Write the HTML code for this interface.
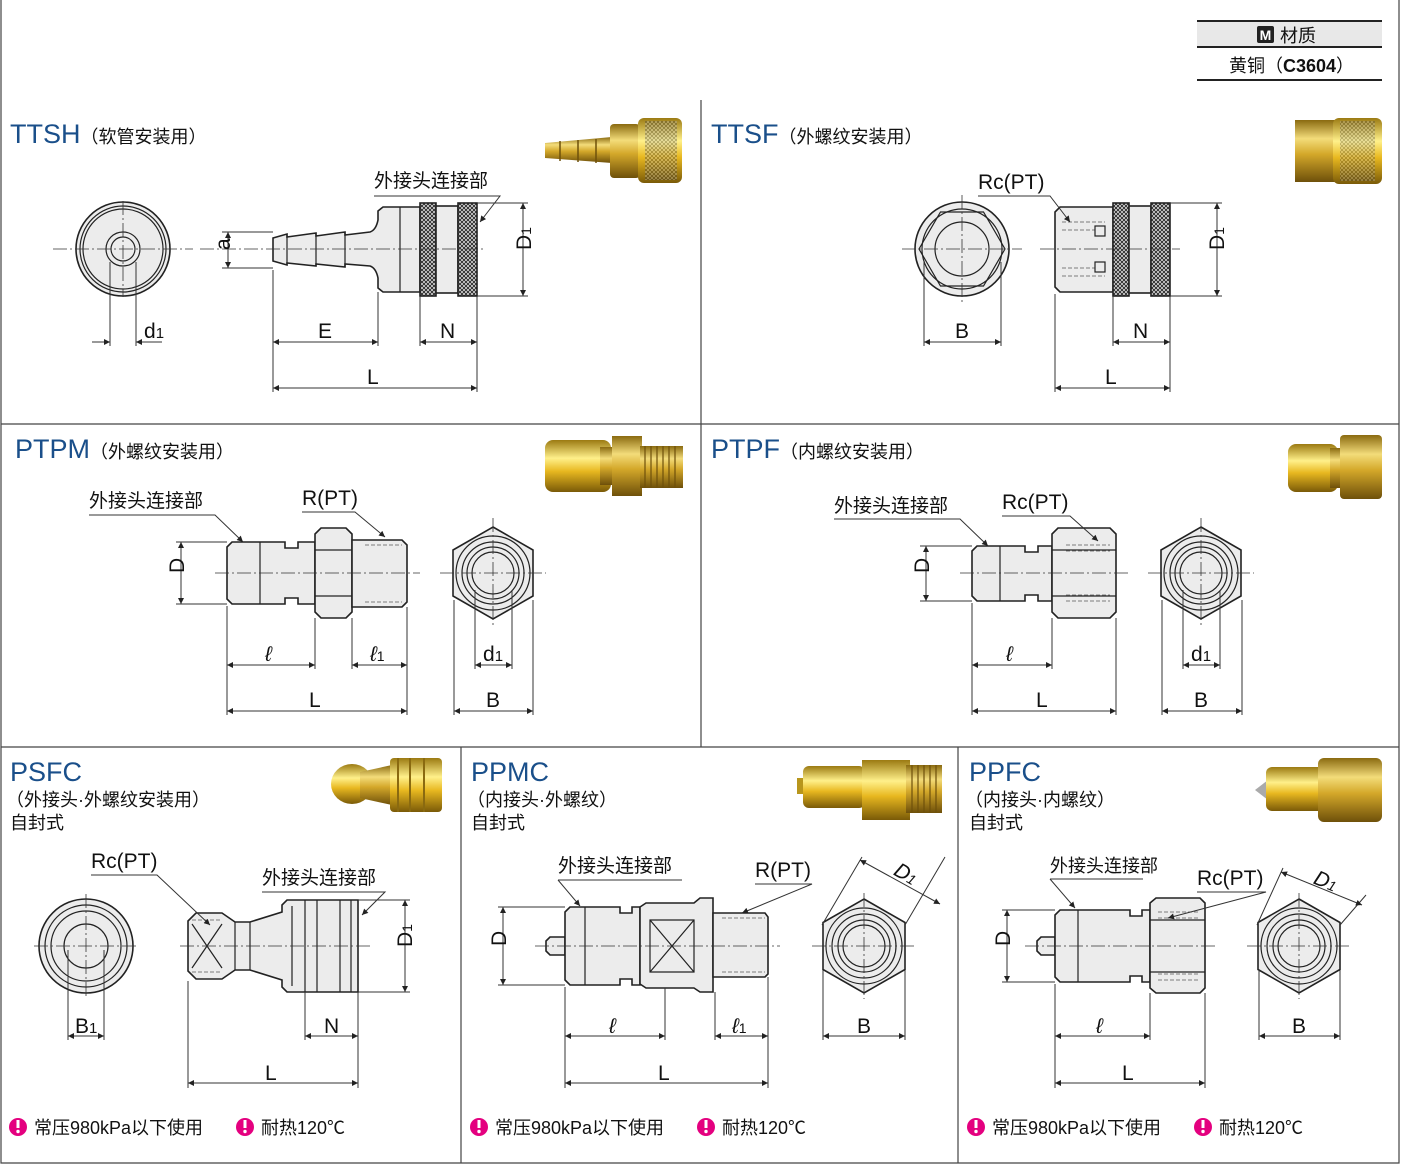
<!DOCTYPE html>
<html><head><meta charset="utf-8"><style>
html,body{margin:0;padding:0;background:#fff}
svg{display:block}
text{font-family:"Liberation Sans","Noto Sans CJK SC",sans-serif;fill:#111}
.t{fill:#1a4f8a;font-size:27px}
.s{font-size:18px}
.lb{font-size:21px}
.p{fill:#ececec;stroke:#222;stroke-width:1.6}
.d{stroke:#333;stroke-width:1;fill:none}
.dm{stroke:#333;stroke-width:1;fill:none;marker-start:url(#a);marker-end:url(#a)}
.c{stroke:#333;stroke-width:0.8;stroke-dasharray:14 3 2 3;fill:none}
.h{stroke:#555;stroke-width:0.8;stroke-dasharray:4 2;fill:none}
.g{stroke:#222;stroke-width:1.2;fill:none}
</style></head><body>
<svg width="1401" height="1168" viewBox="0 0 1401 1168" xmlns="http://www.w3.org/2000/svg">
<defs>
<marker id="a" viewBox="0 0 10 10" refX="10" refY="5" markerWidth="12" markerHeight="6" orient="auto-start-reverse" markerUnits="userSpaceOnUse"><path d="M0,0L10,5L0,10z" fill="#222"/></marker>
<linearGradient id="br" x1="0" y1="0" x2="0" y2="1"><stop offset="0" stop-color="#8a6a10"/><stop offset="0.3" stop-color="#f3dc7a"/><stop offset="0.55" stop-color="#d4a82a"/><stop offset="1" stop-color="#6e500a"/></linearGradient>
<linearGradient id="br2" x1="0" y1="0" x2="0" y2="1"><stop offset="0" stop-color="#9b7a12"/><stop offset="0.35" stop-color="#fff08a"/><stop offset="0.6" stop-color="#e8b820"/><stop offset="1" stop-color="#7a5a08"/></linearGradient>
<pattern id="kn" width="4" height="4" patternUnits="userSpaceOnUse"><rect width="4" height="4" fill="#ddd"/><path d="M0,0L4,4M4,0L0,4" stroke="#222" stroke-width="0.9"/></pattern>
</defs>

<g stroke="#444" stroke-width="1.2" fill="none">
<path d="M1,0V1163H1399V0"/>
<path d="M1,424H1399M1,747H1399M701,100V747M461,747V1163M958,747V1163"/>
</g>

<rect x="1197" y="21" width="185" height="26" fill="#e8e8e8"/>
<path d="M1197,21H1382M1197,47H1382M1197,80H1382" stroke="#222" stroke-width="2"/>
<rect x="1257" y="26" width="17" height="17" rx="2" fill="#222"/>
<text x="1265.5" y="40" text-anchor="middle" style="fill:#fff;font-size:14px;font-weight:bold">M</text>
<text x="1280" y="42" class="s">材质</text>
<text x="1229" y="72" class="s">黄铜（<tspan font-weight="bold">C3604</tspan>）</text>

<!-- ============ TTSH ============ -->
<text x="10" y="143" class="t">TTSH<tspan class="s" style="fill:#111">（软管安装用）</tspan></text>
<g>
<path d="M545,143 L612,137 L612,163 L545,158z" fill="url(#br)"/>
<path d="M560,141v20M578,140v22M596,139v24" stroke="#6e500a" stroke-width="1.5"/>
<rect x="610" y="124" width="30" height="54" rx="4" fill="url(#br)"/>
<rect x="638" y="118" width="44" height="65" rx="6" fill="url(#br2)"/>
<rect x="645" y="121" width="32" height="59" fill="url(#kn)" opacity="0.35"/>
</g>
<circle cx="123" cy="249" r="47" class="p" stroke-width="2.5"/>
<circle cx="123" cy="249" r="43" class="g"/>
<circle cx="123" cy="249" r="40" class="g"/>
<circle cx="123" cy="249" r="17" class="g" stroke-width="2.5"/>
<circle cx="123" cy="249" r="12" fill="#fff" class="g"/>
<path d="M53,249H193M123,201V297" class="c"/>
<path d="M110,262V346M136,262V346" class="d"/>
<path d="M92,342H110" class="d" marker-end="url(#a)"/>
<path d="M162,342H136" class="d" marker-end="url(#a)"/>
<text x="144" y="338" class="lb">d<tspan font-size="15">1</tspan></text>
<path d="M273,238 L287,234 L287,237 L316,233 L316,236 L345,232 L345,235 L370,232 Q376,230 378,220 L378,211 L383,207 L420,207 L420,292 L383,292 L378,288 L378,278 Q376,268 370,266 L345,264 L345,267 L316,264 L316,266 L287,263 L287,265 L273,261z" class="p"/>
<path d="M287,234V265M316,233V266M345,232V267M400,207V292" class="g" stroke-width="1"/>
<rect x="420" y="203" width="16" height="93" fill="url(#kn)" stroke="#222" stroke-width="1.6"/>
<rect x="436" y="206" width="22" height="87" class="p"/>
<rect x="458" y="203" width="19" height="93" fill="url(#kn)" stroke="#222" stroke-width="1.6"/>
<path d="M200,249H485" class="c"/>
<path d="M222,232H273M222,268H273" class="d"/>
<path d="M228,232V268" class="dm"/>
<text x="223" y="257" class="lb" transform="rotate(-90 223 250)">a</text>
<path d="M477,203H528M477,296H528" class="d"/>
<path d="M523,203V296" class="dm"/>
<text x="519" y="262" class="lb" transform="rotate(-90 519 250)">D<tspan font-size="14">1</tspan></text>
<path d="M273,270V392M378,292V346M420,296V346M477,296V392" class="d"/>
<path d="M273,342H378" class="dm"/><path d="M420,342H477" class="dm"/><path d="M273,388H477" class="dm"/>
<text x="318" y="338" class="lb">E</text>
<text x="440" y="338" class="lb">N</text>
<text x="367" y="384" class="lb">L</text>
<text x="374" y="187" class="lb" style="font-size:19px">外接头连接部</text>
<path d="M374,196H500L480,222" class="d" marker-end="url(#a)"/>

<!-- ============ TTSF ============ -->
<text x="711" y="143" class="t">TTSF<tspan class="s" style="fill:#111">（外螺纹安装用）</tspan></text>
<g>
<rect x="1295" y="120" width="40" height="62" fill="url(#br)"/>
<rect x="1333" y="118" width="49" height="66" rx="6" fill="url(#br2)"/>
<rect x="1340" y="121" width="35" height="60" fill="url(#kn)" opacity="0.3"/>
</g>
<circle cx="962" cy="249" r="47" class="p" stroke-width="2"/>
<polygon points="1005,249 983.5,286 940.5,286 919,249 940.5,212 983.5,212" class="g"/>
<circle cx="962" cy="249" r="40" class="g"/>
<circle cx="962" cy="249" r="27" fill="#fff" class="g"/>
<path d="M902,249H1022M962,195V303" class="c"/>
<path d="M924,262V346M1001,262V346" class="d"/>
<path d="M924,342H1001" class="dm"/>
<text x="955" y="338" class="lb">B</text>
<path d="M1060,207L1113,207L1113,292L1060,292L1055,287L1055,212z" class="p"/>
<path d="M1062,222H1105M1062,276H1105M1062,230H1095M1062,268H1095" class="h"/>
<rect x="1095" y="226" width="10" height="10" class="g" stroke-width="1"/>
<rect x="1095" y="262" width="10" height="10" class="g" stroke-width="1"/>
<rect x="1113" y="203" width="16" height="93" fill="url(#kn)" stroke="#222" stroke-width="1.6"/>
<rect x="1129" y="206" width="22" height="87" class="p"/>
<rect x="1151" y="203" width="19" height="93" fill="url(#kn)" stroke="#222" stroke-width="1.6"/>
<path d="M1040,249H1180" class="c"/>
<path d="M1170,203H1222M1170,296H1222" class="d"/>
<path d="M1217,203V296" class="dm"/>
<text x="1212" y="262" class="lb" transform="rotate(-90 1212 250)">D<tspan font-size="14">1</tspan></text>
<path d="M1055,294V392M1113,296V346M1170,296V392" class="d"/>
<path d="M1113,342H1170" class="dm"/><path d="M1055,388H1170" class="dm"/>
<text x="1133" y="338" class="lb">N</text>
<text x="1105" y="384" class="lb">L</text>
<text x="978" y="189" class="lb">Rc(PT)</text>
<path d="M978,196H1050L1070,222" class="d" marker-end="url(#a)"/>

<!-- ============ PTPM ============ -->
<text x="15" y="458" class="t">PTPM<tspan class="s" style="fill:#111">（外螺纹安装用）</tspan></text>
<g>
<rect x="545" y="440" width="66" height="52" rx="8" fill="url(#br2)"/>
<rect x="600" y="447" width="14" height="38" fill="url(#br)"/>
<rect x="612" y="436" width="30" height="60" fill="url(#br)"/>
<rect x="640" y="446" width="43" height="42" fill="url(#br)"/>
<path d="M645,446v42M651,446v42M657,446v42M663,446v42M669,446v42M675,446v42" stroke="#6e500a" stroke-width="1.2"/>
</g>
<path d="M232,542H285V548H298V542H315V604H298V598H285V604H232L227,599V547z" class="p"/>
<path d="M260,542V604" class="g" stroke-width="1"/>
<path d="M321,528H346L352,534V612L346,618H321L315,612V534z" class="p"/>
<path d="M315,550H352M315,596H352" class="g" stroke-width="1"/>
<path d="M352,540H402L407,545V602L402,607H352z" class="p"/>
<path d="M365,545H402M365,602H402" class="h"/>
<path d="M215,573H420" class="c"/>
<path d="M176,542H227M176,604H227" class="d"/>
<path d="M181,542V604" class="dm"/>
<text x="176" y="581" class="lb" transform="rotate(-90 176 573)">D</text>
<path d="M227,606V715M315,618V669M352,618V669M407,607V715" class="d"/>
<path d="M227,665H315" class="dm"/><path d="M352,665H407" class="dm"/><path d="M227,711H407" class="dm"/>
<text x="265" y="661" class="lb" font-style="italic">ℓ</text>
<text x="370" y="661" class="lb" font-style="italic">ℓ<tspan font-size="14" font-style="normal">1</tspan></text>
<text x="309" y="707" class="lb">L</text>
<text x="89" y="507" class="lb" style="font-size:19px">外接头连接部</text>
<path d="M89,515H215L243,542" class="d" marker-end="url(#a)"/>
<text x="302" y="505" class="lb">R(PT)</text>
<path d="M302,512H355L385,537" class="d" marker-end="url(#a)"/>
<polygon points="493,527 533,550 533,596 493,619 453,596 453,550" class="p"/>
<circle cx="493" cy="573" r="37" class="g"/>
<circle cx="493" cy="573" r="31" class="g" stroke-width="2"/>
<circle cx="493" cy="573" r="26" class="g"/>
<circle cx="493" cy="573" r="21" fill="#fff" class="g"/>
<path d="M440,573H546M493,518V628" class="c"/>
<path d="M475,590V669M512,590V669M454,600V715M533,600V715" class="d"/>
<path d="M475,665H512" class="dm"/><path d="M454,711H533" class="dm"/>
<text x="483" y="661" class="lb">d<tspan font-size="15">1</tspan></text>
<text x="486" y="707" class="lb">B</text>

<!-- ============ PTPF ============ -->
<text x="711" y="458" class="t">PTPF<tspan class="s" style="fill:#111">（内螺纹安装用）</tspan></text>
<g>
<rect x="1288" y="444" width="50" height="48" rx="8" fill="url(#br2)"/>
<rect x="1330" y="448" width="12" height="40" fill="url(#br)"/>
<rect x="1340" y="435" width="42" height="64" rx="4" fill="url(#br)"/>
</g>
<path d="M977,546H1025V552H1038V546H1052V601H1038V595H1025V601H977L972,596V551z" class="p"/>
<path d="M1000,546V601" class="g" stroke-width="1"/>
<path d="M1058,528H1110L1116,534V612L1110,618H1058L1052,612V534z" class="p"/>
<path d="M1052,550H1116M1052,596H1116" class="g" stroke-width="1"/>
<path d="M1066,545H1110M1066,601H1110M1066,551H1110M1066,595H1110" class="h"/>
<path d="M960,573H1130" class="c"/>
<path d="M920,546H972M920,601H972" class="d"/>
<path d="M926,546V601" class="dm"/>
<text x="921" y="581" class="lb" transform="rotate(-90 921 573)">D</text>
<path d="M972,603V715M1052,618V669M1116,618V715" class="d"/>
<path d="M972,665H1052" class="dm"/><path d="M972,711H1116" class="dm"/>
<text x="1006" y="661" class="lb" font-style="italic">ℓ</text>
<text x="1036" y="707" class="lb">L</text>
<text x="834" y="512" class="lb" style="font-size:19px">外接头连接部</text>
<path d="M834,519H960L988,546" class="d" marker-end="url(#a)"/>
<text x="1002" y="509" class="lb">Rc(PT)</text>
<path d="M1002,516H1070L1098,541" class="d" marker-end="url(#a)"/>
<polygon points="1201,527 1241,550 1241,596 1201,619 1161,596 1161,550" class="p"/>
<circle cx="1201" cy="573" r="37" class="g"/>
<circle cx="1201" cy="573" r="31" class="g" stroke-width="2"/>
<circle cx="1201" cy="573" r="26" class="g"/>
<circle cx="1201" cy="573" r="21" fill="#fff" class="g"/>
<path d="M1148,573H1254M1201,518V628" class="c"/>
<path d="M1183,590V669M1220,590V669M1162,600V715M1242,600V715" class="d"/>
<path d="M1183,665H1220" class="dm"/><path d="M1162,711H1242" class="dm"/>
<text x="1191" y="661" class="lb">d<tspan font-size="15">1</tspan></text>
<text x="1194" y="707" class="lb">B</text>

<!-- ============ PSFC ============ -->
<text x="10" y="781" class="t">PSFC</text>
<text x="6" y="806" class="s">（外接头·外螺纹安装用）</text>
<text x="10" y="829" class="s">自封式</text>
<g>
<ellipse cx="352" cy="784" rx="21" ry="20" fill="url(#br2)"/>
<path d="M360,772L392,765L392,805L360,798z" fill="url(#br)"/>
<rect x="390" y="758" width="52" height="54" rx="4" fill="url(#br2)"/>
<path d="M398,758v54M410,758v54M424,758v54" stroke="#8a6a10" stroke-width="2"/>
</g>
<circle cx="86" cy="946" r="47" class="p"/>
<circle cx="86" cy="946" r="41" class="g"/>
<circle cx="86" cy="946" r="35" class="g" stroke-width="2"/>
<circle cx="86" cy="946" r="22" fill="#fff" class="g"/>
<path d="M34,946H138M86,894V998" class="c"/>
<path d="M68,950V1040M104,950V1040" class="d"/>
<path d="M68,1036H104" class="dm"/>
<text x="75" y="1033" class="lb">B<tspan font-size="15">1</tspan></text>
<path d="M196,913H222L235,922H250L282,912V905L287,900H358V992H287L282,987V980L250,970H235L222,979H196L188,971V921z" class="p"/>
<path d="M250,922V970M235,922V970M305,900V992M317,900V992M340,900V992M351,900V992M292,906V986" class="g" stroke-width="1"/>
<path d="M192,924L222,968M222,924L192,968" class="g" stroke-width="0.8"/>
<path d="M192,920H222M192,972H222" class="h"/>
<path d="M180,946H370" class="c"/>
<path d="M358,900H410M358,992H410" class="d"/>
<path d="M405,900V992" class="dm"/>
<text x="400" y="959" class="lb" transform="rotate(-90 400 947)">D<tspan font-size="14">1</tspan></text>
<path d="M188,981V1088M305,992V1040M358,992V1088" class="d"/>
<path d="M305,1036H358" class="dm"/><path d="M188,1083H358" class="dm"/>
<text x="324" y="1033" class="lb">N</text>
<text x="265" y="1080" class="lb">L</text>
<text x="91" y="868" class="lb">Rc(PT)</text>
<path d="M91,875H157L210,925" class="d" marker-end="url(#a)"/>
<text x="262" y="884" class="lb" style="font-size:19px">外接头连接部</text>
<path d="M262,892H385L362,915" class="d" marker-end="url(#a)"/>

<!-- ============ PPMC ============ -->
<text x="471" y="781" class="t">PPMC</text>
<text x="467" y="806" class="s">（内接头·外螺纹）</text>
<text x="471" y="829" class="s">自封式</text>
<g>
<rect x="797" y="778" width="8" height="16" fill="#b8961c"/>
<rect x="803" y="766" width="62" height="42" rx="6" fill="url(#br2)"/>
<rect x="862" y="760" width="48" height="60" fill="url(#br2)"/>
<rect x="906" y="765" width="36" height="48" fill="url(#br)"/>
<path d="M912,765v48M918,765v48M924,765v48M930,765v48M936,765v48" stroke="#6e500a" stroke-width="1.2"/>
</g>
<path d="M550,937H565V955H550L546,951V941z" class="p"/>
<path d="M570,907H620V913H632V907H640V985H632V979H620V985H570L565,980V912z" class="p"/>
<path d="M585,907V985" class="g" stroke-width="1"/>
<path d="M646,903H694L700,898H713V992H700L694,988H646L640,984V907z" class="p"/>
<path d="M650,920H694V972H650z" class="g" stroke-width="1"/>
<path d="M650,920L694,972M694,920L650,972" class="g" stroke-width="0.8"/>
<path d="M713,913H765L768,917V974L765,977H713z" class="p"/>
<path d="M722,918H765M722,972H765" class="h"/>
<path d="M535,946H780" class="c"/>
<path d="M498,907H565M498,985H565" class="d"/>
<path d="M503,907V985" class="dm"/>
<text x="498" y="954" class="lb" transform="rotate(-90 498 946)">D</text>
<path d="M565,987V1088M665,988V1040M715,992V1040M768,977V1088" class="d"/>
<path d="M565,1036H665" class="dm"/><path d="M715,1036H768" class="dm"/><path d="M565,1083H768" class="dm"/>
<text x="609" y="1033" class="lb" font-style="italic">ℓ</text>
<text x="732" y="1033" class="lb" font-style="italic">ℓ<tspan font-size="14" font-style="normal">1</tspan></text>
<text x="658" y="1080" class="lb">L</text>
<text x="558" y="872" class="lb" style="font-size:19px">外接头连接部</text>
<path d="M558,880H682" class="d"/>
<path d="M558,880L580,906" class="d" marker-end="url(#a)"/>
<text x="755" y="877" class="lb">R(PT)</text>
<path d="M755,884H812L742,913" class="d" marker-end="url(#a)"/>
<polygon points="864,899 905,922.5 905,969.5 864,993 823,969.5 823,922.5" class="p"/>
<circle cx="864" cy="946" r="38" class="g"/>
<circle cx="864" cy="946" r="32" class="g" stroke-width="2"/>
<circle cx="864" cy="946" r="26" class="g"/>
<circle cx="864" cy="946" r="21" fill="#fff" class="g"/>
<path d="M812,946H916M864,893V999" class="c"/>
<path d="M822,925L862,857M905,925L945,857" class="d" stroke-width="0.8"/>
<path d="M860,860L940,904" class="dm"/>
<text x="893" y="878" class="lb" font-style="italic" transform="rotate(30 900 875)">D<tspan font-size="14">1</tspan></text>
<path d="M823,970V1040M905,970V1040" class="d"/>
<path d="M823,1036H905" class="dm"/>
<text x="857" y="1033" class="lb">B</text>

<!-- ============ PPFC ============ -->
<text x="969" y="781" class="t">PPFC</text>
<text x="965" y="806" class="s">（内接头·内螺纹）</text>
<text x="969" y="829" class="s">自封式</text>
<g>
<path d="M1255,790L1268,780V800z" fill="#aaa"/>
<rect x="1266" y="767" width="58" height="44" rx="6" fill="url(#br2)"/>
<rect x="1318" y="758" width="64" height="64" rx="6" fill="url(#br)"/>
</g>
<path d="M1041,937H1055V955H1041L1037,951V941z" class="p"/>
<path d="M1060,910H1130V916H1142V910H1150V982H1142V976H1130V982H1060L1055,977V915z" class="p"/>
<path d="M1078,910V982" class="g" stroke-width="1"/>
<path d="M1156,898H1200L1205,903V988L1200,993H1156L1150,988V903z" class="p"/>
<path d="M1150,920H1205M1150,972H1205" class="g" stroke-width="1"/>
<path d="M1158,912H1200M1158,980H1200M1158,918H1200M1158,974H1200" class="h"/>
<path d="M1025,946H1215" class="c"/>
<path d="M1002,910H1055M1002,982H1055" class="d"/>
<path d="M1007,910V982" class="dm"/>
<text x="1002" y="954" class="lb" transform="rotate(-90 1002 946)">D</text>
<path d="M1055,984V1088M1150,993V1040M1205,993V1088" class="d"/>
<path d="M1055,1036H1150" class="dm"/><path d="M1055,1083H1205" class="dm"/>
<text x="1096" y="1033" class="lb" font-style="italic">ℓ</text>
<text x="1122" y="1080" class="lb">L</text>
<text x="1050" y="872" style="font-size:18px">外接头连接部</text>
<path d="M1050,879H1143" class="d"/>
<path d="M1050,879L1075,908" class="d" marker-end="url(#a)"/>
<text x="1197" y="885" class="lb">Rc(PT)</text>
<path d="M1197,892H1266L1168,918" class="d" marker-end="url(#a)"/>
<polygon points="1299,899 1340,922.5 1340,969.5 1299,993 1258,969.5 1258,922.5" class="p"/>
<circle cx="1299" cy="946" r="38" class="g"/>
<circle cx="1299" cy="946" r="32" class="g" stroke-width="2"/>
<circle cx="1299" cy="946" r="26" class="g"/>
<circle cx="1299" cy="946" r="21" fill="#fff" class="g"/>
<path d="M1247,946H1351M1299,893V999" class="c"/>
<path d="M1257,925L1283,868M1340,925L1366,895" class="d" stroke-width="0.8"/>
<path d="M1281,872L1362,905" class="dm"/>
<text x="1313" y="886" class="lb" font-style="italic" transform="rotate(22 1320 883)">D<tspan font-size="14">1</tspan></text>
<path d="M1259,970V1040M1340,970V1040" class="d"/>
<path d="M1259,1036H1340" class="dm"/>
<text x="1292" y="1033" class="lb">B</text>

<g id="ft">
<circle cx="18" cy="1127" r="9" fill="#e4007f"/>
<rect x="16.5" y="1120" width="3" height="8" fill="#fff"/><circle cx="18" cy="1131.5" r="1.7" fill="#fff"/>
<text x="34" y="1134" class="s">常压980kPa以下使用</text>
<circle cx="245" cy="1127" r="9" fill="#e4007f"/>
<rect x="243.5" y="1120" width="3" height="8" fill="#fff"/><circle cx="245" cy="1131.5" r="1.7" fill="#fff"/>
<text x="261" y="1134" class="s">耐热120℃</text>
</g>
<use href="#ft" x="461"/>
<use href="#ft" x="958"/>
</svg>
</body></html>
